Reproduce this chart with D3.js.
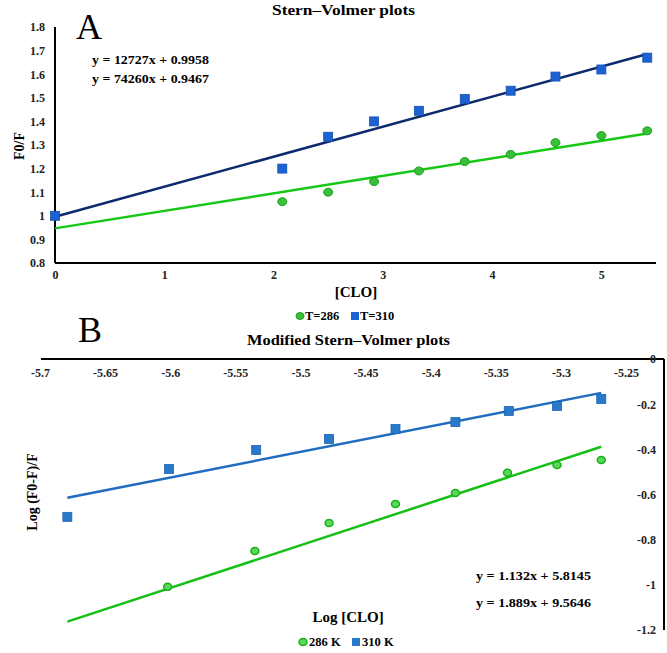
<!DOCTYPE html>
<html><head><meta charset="utf-8">
<script src="https://cdn.jsdelivr.net/npm/d3@7"></script>
<style>
html,body{margin:0;padding:0;background:#fff;}
svg{display:block;font-family:"Liberation Serif","Times New Roman",serif;font-weight:bold;}
</style></head>
<body>
<svg id="chart" width="667" height="653"></svg>
<script>
// ---------- Data: panel A (Stern–Volmer) ----------
const concA = [0, 2.08, 2.5, 2.92, 3.33, 3.75, 4.17, 4.58, 5.0, 5.42];
const t310A = [1.0, 1.20, 1.335, 1.40, 1.445, 1.495, 1.53, 1.59, 1.62, 1.67];
const concA286 = [2.08, 2.5, 2.92, 3.33, 3.75, 4.17, 4.58, 5.0, 5.42];
const t286A = [1.06, 1.10, 1.145, 1.19, 1.23, 1.26, 1.31, 1.34, 1.36];
const fitA310 = {slope: 0.12727, intercept: 0.9958};
const fitA286 = {slope: 0.07426, intercept: 0.9467};
const xTicksA = [0, 1, 2, 3, 4, 5];
const yTicksA = [0.8, 0.9, 1.0, 1.1, 1.2, 1.3, 1.4, 1.5, 1.6, 1.7, 1.8];
const eqA = ["y = 12727x + 0.9958", "y = 74260x + 0.9467"];
const legendA = ["T=286", "T=310"];

// ---------- Data: panel B (Modified Stern–Volmer) ----------
const logC310 = [-5.679, -5.601, -5.534, -5.478, -5.427, -5.381, -5.340, -5.303, -5.269];
const logF310 = [-0.699, -0.487, -0.403, -0.354, -0.310, -0.279, -0.230, -0.208, -0.177];
const logC286 = [-5.602, -5.535, -5.478, -5.427, -5.381, -5.341, -5.303, -5.269];
const logF286 = [-1.009, -0.850, -0.726, -0.642, -0.593, -0.504, -0.469, -0.447];
const fitB310 = {slope: 1.132, intercept: 5.8145};
const fitB286 = {slope: 1.889, intercept: 9.5646};
const fitRangeB = [-5.679, -5.269];
const xTicksB = [-5.7, -5.65, -5.6, -5.55, -5.5, -5.45, -5.4, -5.35, -5.3, -5.25];
const yTicksB = [0, -0.2, -0.4, -0.6, -0.8, -1, -1.2];
const eqB = ["y = 1.132x + 5.8145", "y = 1.889x + 9.5646"];
const legendB = ["286 K", "310 K"];

const svg = d3.select("#chart");
const fmt = d => String(+d.toFixed(2));
const styleTicks = sel => sel.selectAll("text").attr("font-family", "Liberation Serif")
  .attr("font-weight", "bold").attr("font-size", 12).attr("fill", "#222");

// ================= Panel A =================
const xA = d3.scaleLinear().domain([0, 5.5]).range([55, 656]);
const yA = d3.scaleLinear().domain([0.8, 1.8]).range([263, 27]);
const gA = svg.append("g");

gA.append("line").attr("x1", xA(0)).attr("x2", xA(0)).attr("y1", yA(1.8)).attr("y2", yA(0.8))
  .attr("stroke", "#000").attr("stroke-width", 2);
gA.append("line").attr("x1", xA(0)).attr("x2", xA(5.5)).attr("y1", yA(0.8)).attr("y2", yA(0.8))
  .attr("stroke", "#000").attr("stroke-width", 2);

const axYA = d3.axisLeft(yA).tickValues(yTicksA).tickSize(0).tickPadding(10).tickFormat(fmt);
const gyA = gA.append("g").attr("transform", `translate(${xA(0)},0)`).call(axYA);
gyA.select(".domain").remove();
styleTicks(gyA);
const axXA = d3.axisBottom(xA).tickValues(xTicksA).tickSize(0).tickPadding(7).tickFormat(d3.format("d"));
const gxA = gA.append("g").attr("transform", `translate(0,${yA(0.8)})`).call(axXA);
gxA.select(".domain").remove();
styleTicks(gxA);

const lineA = d3.line().x(d => xA(d[0])).y(d => yA(d[1]));
const xrA = [0, concA[concA.length - 1]];
gA.append("path").datum(xrA.map(x => [x, fitA286.slope * x + fitA286.intercept]))
  .attr("d", lineA).attr("fill", "none").attr("stroke", "#14c814").attr("stroke-width", 2.5);
gA.append("path").datum(xrA.map(x => [x, fitA310.slope * x + fitA310.intercept]))
  .attr("d", lineA).attr("fill", "none").attr("stroke", "#0c2a6e").attr("stroke-width", 2.5);

gA.selectAll("ellipse.g").data(concA286.map((c, i) => [c, t286A[i]])).enter().append("ellipse")
  .attr("cx", d => xA(d[0])).attr("cy", d => yA(d[1])).attr("rx", 4.5).attr("ry", 4)
  .attr("fill", "#38c038").attr("stroke", "#1f9f1f").attr("stroke-width", 1);
gA.selectAll("rect.b").data(concA.map((c, i) => [c, t310A[i]])).enter().append("rect")
  .attr("x", d => xA(d[0]) - 4.5).attr("y", d => yA(d[1]) - 4.5).attr("width", 9).attr("height", 9)
  .attr("fill", "#1d62d2").attr("stroke", "#1450b0").attr("stroke-width", 0.8);

gA.append("text").attr("x", 272).attr("y", 15).attr("font-size", 15)
  .attr("textLength", 143).attr("lengthAdjust", "spacingAndGlyphs").text("Stern–Volmer plots");
gA.append("text").attr("x", 76).attr("y", 39).attr("font-size", 36).attr("font-weight", "normal").text("A");
eqA.forEach((t, i) => gA.append("text").attr("x", 92).attr("y", 64 + i * 19).attr("font-size", 13.5)
  .attr("textLength", 117).attr("lengthAdjust", "spacingAndGlyphs").text(t));
gA.append("text").attr("transform", `translate(24,146) rotate(-90)`).attr("text-anchor", "middle")
  .attr("font-size", 14).text("F0/F");
gA.append("text").attr("x", 356).attr("y", 297).attr("text-anchor", "middle").attr("font-size", 15).text("[CLO]");
gA.append("ellipse").attr("cx", 300).attr("cy", 316).attr("rx", 4).attr("ry", 3.5).attr("fill", "#38c038").attr("stroke", "#1f9f1f");
gA.append("text").attr("x", 305).attr("y", 320).attr("font-size", 12.5).text(legendA[0]);
gA.append("rect").attr("x", 351).attr("y", 312).attr("width", 8).attr("height", 8).attr("fill", "#1d62d2");
gA.append("text").attr("x", 360).attr("y", 320).attr("font-size", 12.5).text(legendA[1]);

// ================= Panel B =================
const xB = d3.scaleLinear().domain([-5.7, -5.25]).range([40, 626]);
const yB = d3.scaleLinear().domain([-1.2, 0]).range([630, 359]);
const gB = svg.append("g");
const xEndB = 664;

gB.append("line").attr("x1", 41).attr("x2", xEndB).attr("y1", yB(0)).attr("y2", yB(0))
  .attr("stroke", "#000").attr("stroke-width", 2);
gB.append("line").attr("x1", xEndB).attr("x2", xEndB).attr("y1", yB(0)).attr("y2", yB(-1.2))
  .attr("stroke", "#000").attr("stroke-width", 2);

const axXB = d3.axisBottom(xB).tickValues(xTicksB).tickSize(0).tickPadding(9).tickFormat(d => String(d));
const gxB = gB.append("g").attr("transform", `translate(0,${yB(0)})`).call(axXB);
gxB.select(".domain").remove();
styleTicks(gxB);

const axYB = d3.axisLeft(yB).tickValues(yTicksB).tickSize(0).tickPadding(8).tickFormat(d => String(d));
const gyB = gB.append("g").attr("transform", `translate(${xEndB},0)`).call(axYB);
gyB.select(".domain").remove();
styleTicks(gyB);

const lineB = d3.line().x(d => xB(d[0])).y(d => yB(d[1]));
gB.append("path").datum(fitRangeB.map(x => [x, fitB310.slope * x + fitB310.intercept]))
  .attr("d", lineB).attr("fill", "none").attr("stroke", "#1f6cc0").attr("stroke-width", 2.5);
gB.append("path").datum(fitRangeB.map(x => [x, fitB286.slope * x + fitB286.intercept]))
  .attr("d", lineB).attr("fill", "none").attr("stroke", "#14c014").attr("stroke-width", 2.5);

gB.selectAll("rect.b").data(logC310.map((c, i) => [c, logF310[i]])).enter().append("rect")
  .attr("x", d => xB(d[0]) - 4.5).attr("y", d => yB(d[1]) - 4.5).attr("width", 9).attr("height", 9)
  .attr("fill", "#2878cc").attr("stroke", "#1e64b0").attr("stroke-width", 0.8);
gB.selectAll("ellipse.g").data(logC286.map((c, i) => [c, logF286[i]])).enter().append("ellipse")
  .attr("cx", d => xB(d[0])).attr("cy", d => yB(d[1])).attr("rx", 4).attr("ry", 3.5)
  .attr("fill", "#5ad85a").attr("stroke", "#18b018").attr("stroke-width", 1.5);

gB.append("text").attr("x", 247).attr("y", 345).attr("font-size", 15)
  .attr("textLength", 203).attr("lengthAdjust", "spacingAndGlyphs").text("Modified Stern–Volmer plots");
gB.append("text").attr("x", 78).attr("y", 342).attr("font-size", 36).attr("font-weight", "normal").text("B");
eqB.forEach((t, i) => gB.append("text").attr("x", 476).attr("y", 580 + i * 27).attr("font-size", 13.5)
  .attr("textLength", 115).attr("lengthAdjust", "spacingAndGlyphs").text(t));
gB.append("text").attr("transform", `translate(37,492) rotate(-90)`).attr("text-anchor", "middle")
  .attr("font-size", 14).text("Log (F0-F)/F");
gB.append("text").attr("x", 348).attr("y", 622).attr("text-anchor", "middle").attr("font-size", 15).text("Log [CLO]");
gB.append("ellipse").attr("cx", 303).attr("cy", 642).attr("rx", 4).attr("ry", 3.5).attr("fill", "#5ad85a").attr("stroke", "#18b018").attr("stroke-width", 1.5);
gB.append("text").attr("x", 309).attr("y", 646).attr("font-size", 12.5).text(legendB[0]);
gB.append("rect").attr("x", 352).attr("y", 638).attr("width", 8).attr("height", 8).attr("fill", "#2878cc");
gB.append("text").attr("x", 362).attr("y", 646).attr("font-size", 12.5).text(legendB[1]);
</script>
</body></html>
